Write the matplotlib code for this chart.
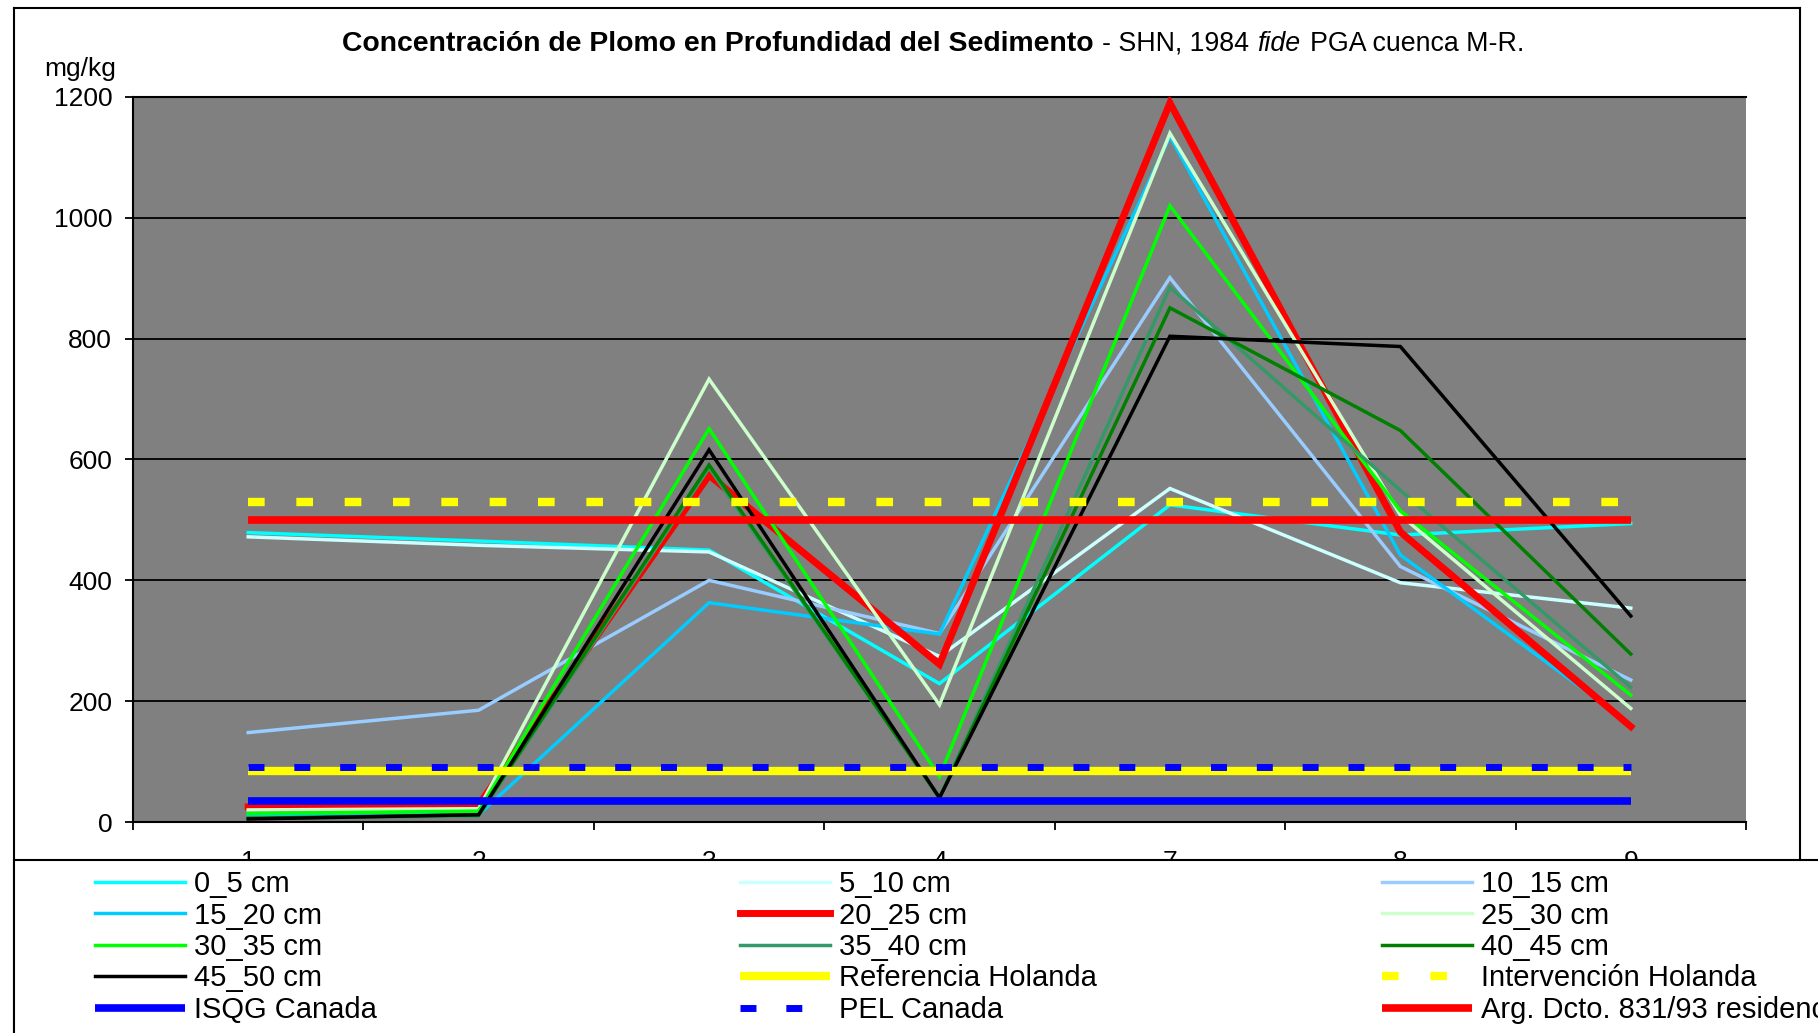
import matplotlib
matplotlib.use('Agg')
import matplotlib.pyplot as plt
from matplotlib.lines import Line2D
from matplotlib.patches import Rectangle
from matplotlib.ticker import FixedLocator

plt.rcParams['font.family'] = ['Liberation Sans', 'DejaVu Sans']

# Data (mg/kg of lead per station and depth)
estaciones = ['1', '2', '3', '4', '7', '8', '9']

cm_0_5 = [479, 465, 450, 229, 525, 475, 494]
cm_5_10 = [472, 458, 447, 274, 552, 396, 354]
cm_10_15 = [148, 185, 400, 312, 901, 423, 235]
cm_15_20 = [12, 12, 363, 311, 1135, 442, 162]
cm_20_25 = [25, 28, 574, 261, 1190, 480, 158]
cm_25_30 = [20, 22, 733, 194, 1140, 508, 188]
cm_30_35 = [14, 18, 651, 75, 1020, 515, 210]
cm_35_40 = [6, 10, 586, 40, 885, 549, 223]
cm_40_45 = [6, 12, 591, 40, 851, 648, 278]
cm_45_50 = [5, 12, 616, 40, 804, 787, 341]

# Guideline levels
ref_holanda = 85
interv_holanda = 530
isqg_canada = 35
pel_canada = 91.3
arg_831_93 = 500

series = [
    ('0_5 cm', cm_0_5, '#00FFFF'),
    ('5_10 cm', cm_5_10, '#CCFFFF'),
    ('10_15 cm', cm_10_15, '#99CCFF'),
    ('15_20 cm', cm_15_20, '#00CCFF'),
    ('20_25 cm', cm_20_25, '#FF0000'),
    ('25_30 cm', cm_25_30, '#CCFFCC'),
    ('30_35 cm', cm_30_35, '#00FF00'),
    ('35_40 cm', cm_35_40, '#339966'),
    ('40_45 cm', cm_40_45, '#008000'),
    ('45_50 cm', cm_45_50, '#000000'),
]

limites = [
    ('Referencia Holanda', ref_holanda, '#FFFF00', '-', 6),
    ('Intervención Holanda', interv_holanda, '#FFFF00', (0, (2, 3.8)), 6),
    ('ISQG Canada', isqg_canada, '#0000FF', '-', 5.5),
    ('PEL Canada', pel_canada, '#0000FF', (0, (2.3, 4.3)), 5),
    ('Arg. Dcto. 831/93 residencial', arg_831_93, '#FF0000', '-', 5.5),
]

W, H = 1818, 1033
fig = plt.figure(figsize=(W / 100, H / 100), dpi=100)
fig.patch.set_facecolor('white')

ax = fig.add_axes([133 / W, 1 - 822 / H, (1746 - 133) / W, (822 - 97) / H])
ax.set_facecolor('#808080')

x = list(range(len(estaciones)))
handles = []
for nombre, vals, col in series:
    lw = 5 if nombre == '20_25 cm' else 2.5
    h, = ax.plot(x, vals, color=col, lw=lw, label=nombre, zorder=3,
                 solid_joinstyle='miter')
    handles.append(h)

for nombre, val, col, ls, lw in limites:
    h, = ax.plot(x, [val] * len(x), color=col, lw=lw, ls=ls, label=nombre,
                 zorder=4, dash_capstyle='butt', solid_capstyle='butt')
    handles.append(h)

ax.set_xlim(-0.5, len(estaciones) - 0.5)
ax.set_ylim(0, 1200)
ax.set_yticks(range(0, 1201, 200))
ax.set_xticks(x)
ax.set_xticklabels(estaciones)
ax.xaxis.set_minor_locator(FixedLocator([i - 0.5 for i in range(len(estaciones) + 1)]))
ax.tick_params(axis='x', which='major', length=0, pad=20, labelsize=19)
ax.tick_params(axis='x', which='minor', length=6, width=1.3, direction='out')
ax.tick_params(axis='y', length=6, width=1.3, direction='out', pad=9, labelsize=19)
ax.grid(axis='y', color='black', lw=1.3, zorder=1)
ax.set_axisbelow(True)
for s in ['top', 'left', 'bottom']:
    ax.spines[s].set_color('black')
    ax.spines[s].set_linewidth(1.5)
ax.spines['right'].set_visible(False)

# outer chart frame
fx0, fx1, fy1 = 14 / W, 1800 / W, 1 - 8 / H
ly = 1 - 860 / H
fig.add_artist(Line2D([fx0, fx1], [fy1, fy1], transform=fig.transFigure, color='black', lw=1.5))
fig.add_artist(Line2D([fx0, fx0], [0, fy1], transform=fig.transFigure, color='black', lw=1.5))
fig.add_artist(Line2D([fx1, fx1], [ly, fy1], transform=fig.transFigure, color='black', lw=1.5))

# legend box (covers lower half of the x tick labels, like the original)
fig.add_artist(Rectangle((fx0, -0.01), 1.1, ly + 0.01, transform=fig.transFigure,
                         facecolor='white', edgecolor='black', lw=1.5, zorder=2))

col_x = [95 / W, 740 / W, 1382 / W]
for c in range(3):
    hs = handles[c::3]
    leg = fig.legend(hs, [h.get_label() for h in hs], loc='upper left',
                     bbox_to_anchor=(col_x[c], 1 - 870 / H), frameon=False,
                     fontsize=21, handlelength=3.1, handletextpad=0.3,
                     labelspacing=0.12, borderpad=0, borderaxespad=0)
    leg.set_zorder(5)

fig.text(44 / W, 1 - 76 / H, 'mg/kg', fontsize=19, ha='left', va='baseline')

# title made of pieces with different styles
renderer = fig.canvas.get_renderer()
partes = [
    ('Concentración de Plomo en Profundidad del Sedimento', 'bold', 'normal', 0, 20.4),
    ('- SHN, 1984', 'normal', 'normal', 8, 19.3),
    ('fide', 'normal', 'italic', 8, 19.3),
    ('PGA cuenca M-R.', 'normal', 'normal', 10, 19.3),
]
px = 342
for txt, peso, estilo, gap, fs in partes:
    px += gap
    t = fig.text(px / W, 1 - 51 / H, txt, fontsize=fs, fontweight=peso,
                 fontstyle=estilo, ha='left', va='baseline')
    bb = t.get_window_extent(renderer=renderer)
    px += bb.width

fig.savefig('out.png', dpi=100)
